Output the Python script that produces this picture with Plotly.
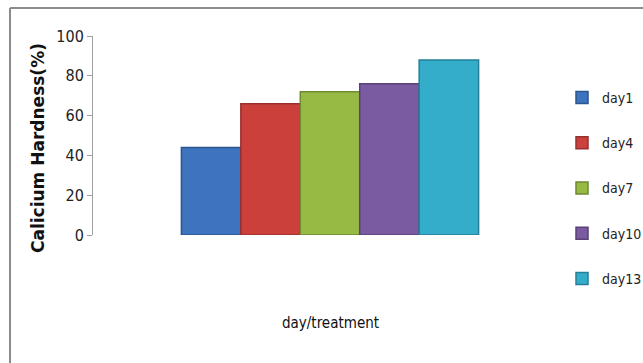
import plotly.graph_objects as go

# Calcium hardness per sampling day
series_names = ["day1", "day4", "day7", "day10", "day13"]
hardness = [44, 66, 72, 76, 88]
category = [""]
bar_colors = ["#3E74BF", "#CB403B", "#97BA44", "#7A5AA0", "#34ADCB"]
edge_colors = ["#2C558E", "#963030", "#6F8A31", "#5A4277", "#257F96"]
y_ticks = [0, 20, 40, 60, 80, 100]

narrow = "DejaVu Sans Condensed, Liberation Sans Narrow, sans-serif"

fig = go.Figure()
for i, (name, val) in enumerate(zip(series_names, hardness)):
    fig.add_trace(go.Bar(
        x=category, y=[val], name=name,
        legendgroup=name,
        marker=dict(color=bar_colors[i], line=dict(color=edge_colors[i], width=1.5)),
    ))

W, H = 643, 363
ml, mr, mt, mb = 93, 76, 36, 128
pw, ph = W - ml - mr, H - mt - mb


def px_x(p):
    return (p - ml) / pw


def px_y(p):
    return (H - mb - p) / ph


fig.update_layout(
    width=W, height=H,
    margin=dict(l=ml, r=mr, t=mt, b=mb, pad=0, autoexpand=False),
    paper_bgcolor="white", plot_bgcolor="white",
    barmode="group", bargap=0.373, bargroupgap=0,
    showlegend=True,
    legend=dict(
        x=px_x(562), y=px_y(82), xanchor="left", yanchor="top",
        font=dict(family=narrow, size=14, color="#222"),
        tracegroupgap=24, itemwidth=30, maxheight=1000,
        bgcolor="rgba(0,0,0,0)",
    ),
    xaxis=dict(
        showline=False, showticklabels=False, ticks="", showgrid=False,
        zeroline=False, range=[-0.5, 0.5],
    ),
    yaxis=dict(
        range=[0, 100], tickvals=y_ticks,
        showline=True, linecolor="#A0A0A0", linewidth=1,
        ticks="outside", ticklen=5, tickcolor="#A0A0A0",
        showgrid=False, zeroline=False,
        tickfont=dict(family=narrow, size=16, color="#222"),
    ),
    annotations=[
        dict(text="<b>Calicium Hardness(%)</b>", textangle=-90,
             xref="paper", yref="paper", x=px_x(38), y=px_y(148),
             xanchor="center", yanchor="middle",
             showarrow=False, font=dict(family="DejaVu Sans, sans-serif", size=17, color="#111")),
        dict(text="day/treatment",
             xref="paper", yref="paper", x=px_x(330), y=px_y(323),
             xanchor="center", yanchor="middle",
             showarrow=False, font=dict(family=narrow, size=15, color="#111")),
    ],
    shapes=[
        dict(type="line", xref="paper", yref="paper",
             x0=px_x(10), x1=px_x(643), y0=px_y(8), y1=px_y(8),
             line=dict(color="#8C8C8C", width=2)),
        dict(type="line", xref="paper", yref="paper",
             x0=px_x(10), x1=px_x(10), y0=px_y(8), y1=px_y(363),
             line=dict(color="#8C8C8C", width=2)),
    ],
)

fig.write_html("out.html")
